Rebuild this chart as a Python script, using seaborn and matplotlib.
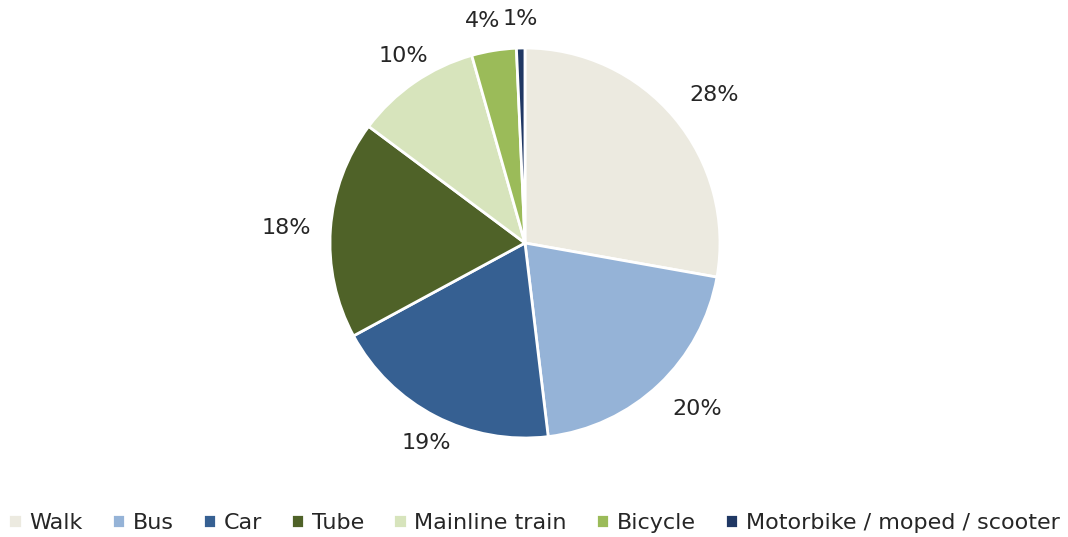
import matplotlib
matplotlib.use("Agg")
import matplotlib.pyplot as plt
import numpy as np
import seaborn as sns

# Travel mode share (percent)
modes = ['Walk', 'Bus', 'Car', 'Tube', 'Mainline train', 'Bicycle',
         'Motorbike / moped / scooter']
share = [27.8, 20.3, 19.0, 18.1, 10.4, 3.7, 0.7]
colours = ['#ECEAE0', '#95B3D7', '#366092', '#4F6228', '#D7E4BC',
           '#9BBB59', '#203864']

sns.set_theme(style="white")
plt.rcParams['font.family'] = ['DejaVu Sans']
palette = sns.color_palette(colours)

fig = plt.figure(figsize=(10.68, 5.37), dpi=100)
ax = fig.add_axes([0.2633, 0.0936, 0.4565, 0.9078])

wedges, texts, autotexts = ax.pie(
    share, colors=palette, startangle=90, counterclock=False,
    autopct='%.0f%%', pctdistance=1.1,
    wedgeprops=dict(edgecolor='white', linewidth=2),
    textprops=dict(fontsize=16, color='#262626'))
ax.set_xlim(-1.25, 1.25)
ax.set_ylim(-1.25, 1.25)
ax.set_aspect('equal')

# anchor each label by its inner edge, like Excel's outside-end labels
for w, t in zip(wedges, autotexts):
    ang = np.deg2rad((w.theta1 + w.theta2) / 2)
    c, s = np.cos(ang), np.sin(ang)
    t.set_ha('left' if c > 0.6 else 'right' if c < -0.6 else 'center')
    t.set_va('bottom' if s > 0.3 else 'top' if s < -0.3 else 'center')

# push overlapping neighbours apart (small slices at the top)
fig.canvas.draw()
r = fig.canvas.get_renderer()
for i in range(len(autotexts) - 2, -1, -1):
    a = autotexts[i].get_window_extent(r)
    b = autotexts[i + 1].get_window_extent(r)
    if a.overlaps(b):
        shift = a.x1 - b.x0 + 2
        x, y = autotexts[i].get_position()
        dx = ax.transData.inverted().transform((shift, 0))[0] - \
            ax.transData.inverted().transform((0, 0))[0]
        autotexts[i].set_position((x - dx, y))

fig.legend(wedges, modes, loc='center', bbox_to_anchor=(0.5, 0.026),
           ncol=7, frameon=False, fontsize=16, handlelength=0.6,
           handleheight=0.6, handletextpad=0.35, columnspacing=1.3)

fig.savefig('out.png', dpi=100)
